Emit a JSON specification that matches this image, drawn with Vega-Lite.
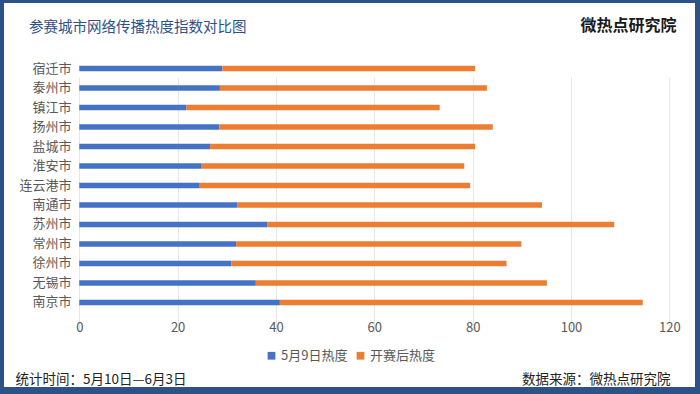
{
  "$schema": "https://vega.github.io/schema/vega-lite/v6.json",
  "width": 691,
  "height": 384,
  "autosize": {"type": "none"},
  "padding": {"left": 4, "top": 3, "right": 5, "bottom": 7},
  "background": "#2D5287",
  "config": {
    "view": {"fill": "white", "stroke": null},
    "font": "Noto Sans CJK SC"
  },
  "title": {
    "text": "参赛城市网络传播热度指数对比图",
    "anchor": "start",
    "frame": "group",
    "orient": "top",
    "offset": 0,
    "dx": 25,
    "dy": 39,
    "baseline": "middle",
    "font": "Noto Sans CJK SC",
    "fontSize": 14.5,
    "fontWeight": "normal",
    "color": "#2D5287"
  },
  "data": {
    "values": [
      {"city": "宿迁市", "series": "5月9日热度", "value": 29.1},
      {"city": "宿迁市", "series": "开赛后热度", "value": 51.4},
      {"city": "泰州市", "series": "5月9日热度", "value": 28.6},
      {"city": "泰州市", "series": "开赛后热度", "value": 54.3},
      {"city": "镇江市", "series": "5月9日热度", "value": 21.8},
      {"city": "镇江市", "series": "开赛后热度", "value": 51.5},
      {"city": "扬州市", "series": "5月9日热度", "value": 28.5},
      {"city": "扬州市", "series": "开赛后热度", "value": 55.6},
      {"city": "盐城市", "series": "5月9日热度", "value": 26.6},
      {"city": "盐城市", "series": "开赛后热度", "value": 53.9},
      {"city": "淮安市", "series": "5月9日热度", "value": 24.9},
      {"city": "淮安市", "series": "开赛后热度", "value": 53.4},
      {"city": "连云港市", "series": "5月9日热度", "value": 24.5},
      {"city": "连云港市", "series": "开赛后热度", "value": 55.0},
      {"city": "南通市", "series": "5月9日热度", "value": 32.1},
      {"city": "南通市", "series": "开赛后热度", "value": 62.0},
      {"city": "苏州市", "series": "5月9日热度", "value": 38.2},
      {"city": "苏州市", "series": "开赛后热度", "value": 70.6},
      {"city": "常州市", "series": "5月9日热度", "value": 31.9},
      {"city": "常州市", "series": "开赛后热度", "value": 58.0},
      {"city": "徐州市", "series": "5月9日热度", "value": 30.9},
      {"city": "徐州市", "series": "开赛后热度", "value": 56.0},
      {"city": "无锡市", "series": "5月9日热度", "value": 35.9},
      {"city": "无锡市", "series": "开赛后热度", "value": 59.2},
      {"city": "南京市", "series": "5月9日热度", "value": 40.8},
      {"city": "南京市", "series": "开赛后热度", "value": 73.8}
    ]
  },
  "resolve": {"axis": {"x": "independent", "y": "independent"}},
  "layer": [
    {
      "mark": {"type": "bar"},
      "encoding": {
        "y": {
          "field": "city",
          "type": "nominal",
          "sort": null,
          "scale": {"range": [55, 310], "paddingInner": 0.72, "paddingOuter": 0.4},
          "axis": {
            "orient": "left",
            "offset": -68,
            "labelPadding": 1,
            "ticks": false,
            "domain": false,
            "grid": false,
            "title": null,
            "labelFont": "Noto Sans CJK SC",
            "labelFontSize": 13,
            "labelColor": "#595959"
          }
        },
        "x": {
          "field": "value",
          "type": "quantitative",
          "stack": "zero",
          "scale": {"domain": [-15.31, 125.22], "nice": false, "zero": false},
          "axis": {
            "orient": "bottom",
            "offset": -69,
            "values": [0, 20, 40, 60, 80, 100, 120],
            "grid": true,
            "gridColor": "#E6E6E6",
            "gridWidth": 1,
            "ticks": false,
            "domain": false,
            "labelPadding": 3,
            "labelFont": "Noto Sans CJK SC",
            "labelFontSize": 13,
            "labelColor": "#595959",
            "title": "统计时间：5月10日—6月3日",
            "titleX": 11,
            "titleY": 61,
            "titleAlign": "left",
            "titleBaseline": "middle",
            "titleFont": "Noto Sans CJK SC",
            "titleFontSize": 13.5,
            "titleFontWeight": "normal",
            "titleColor": "#222222"
          }
        },
        "color": {
          "field": "series",
          "type": "nominal",
          "scale": {"domain": ["5月9日热度", "开赛后热度"], "range": ["#4472C4", "#ED7D31"]},
          "legend": {
            "orient": "none",
            "legendX": 261,
            "legendY": 346,
            "direction": "horizontal",
            "title": null,
            "symbolType": "square",
            "symbolSize": 60,
            "labelFont": "Noto Sans CJK SC",
            "labelFontSize": 13,
            "labelColor": "#595959",
            "columnPadding": 6,
            "labelOffset": 3
          }
        }
      }
    },
    {
      "mark": {"type": "bar", "opacity": 0},
      "encoding": {
        "y": {
          "field": "city",
          "type": "nominal",
          "sort": null,
          "axis": {
            "orient": "right",
            "labels": false,
            "ticks": false,
            "domain": false,
            "grid": false,
            "title": "数据来源：微热点研究院",
            "titleAngle": 0,
            "titleX": -25,
            "titleY": 376,
            "titleAlign": "right",
            "titleBaseline": "middle",
            "titleFont": "Noto Sans CJK SC",
            "titleFontSize": 13.5,
            "titleFontWeight": "normal",
            "titleColor": "#222222"
          }
        },
        "x": {
          "field": "value",
          "type": "quantitative",
          "axis": {
            "orient": "top",
            "labels": false,
            "ticks": false,
            "domain": false,
            "grid": false,
            "title": "微热点研究院",
            "titleX": 576,
            "titleY": 22,
            "titleAlign": "left",
            "titleBaseline": "middle",
            "titleFont": "Noto Sans CJK SC",
            "titleFontSize": 16,
            "titleFontWeight": "bold",
            "titleColor": "#1A1A1A"
          }
        }
      }
    }
  ]
}
